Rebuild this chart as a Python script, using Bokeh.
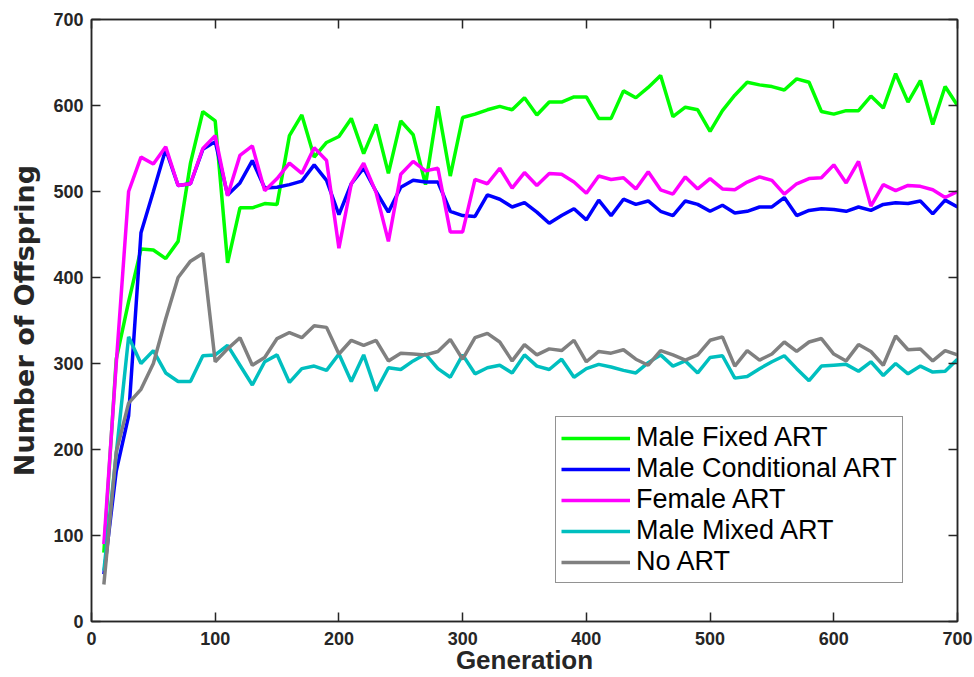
from bokeh.plotting import figure
from bokeh.models import Range1d, LinearAxis, Legend, LegendItem, FixedTicker, ColumnDataSource
from bokeh.embed import file_html
from bokeh.resources import INLINE

generation = list(range(10, 701, 10))

male_fixed = [80, 305, 372, 433, 432, 422, 442, 533, 593, 582,
              417, 481, 481, 486, 485, 565, 589, 540, 557, 564,
              585, 544, 578, 521, 582, 566, 508, 599, 518, 586,
              590, 595, 599, 595, 609, 589, 604, 604, 610, 610,
              585, 585, 617, 609, 621, 635, 587, 598, 595, 570,
              594, 612, 627, 624, 622, 618, 631, 627, 593, 590,
              594, 594, 611, 597, 637, 604, 629, 578, 622, 600]

male_conditional = [55, 175, 239, 452, 500, 549, 507, 509, 549, 558,
                    496, 510, 536, 504, 505, 508, 512, 531, 513, 473,
                    509, 527, 500, 476, 505, 513, 511, 511, 477, 472,
                    471, 496, 491, 482, 487, 476, 463, 472, 480, 467,
                    490, 472, 491, 485, 489, 477, 472, 489, 485, 477,
                    484, 475, 477, 482, 482, 493, 472, 478, 480, 479,
                    477, 482, 478, 485, 487, 486, 489, 474, 490, 482]

female = [90, 300, 500, 540, 532, 552, 507, 509, 550, 565,
          495, 542, 553, 501, 515, 533, 521, 551, 536, 434,
          509, 533, 499, 442, 520, 535, 524, 527, 453, 453,
          514, 509, 527, 504, 522, 507, 521, 520, 511, 498,
          518, 514, 516, 503, 523, 502, 497, 517, 503, 515,
          503, 502, 511, 517, 513, 497, 509, 515, 516, 531,
          510, 535, 483, 508, 501, 507, 506, 502, 493, 500]

male_mixed = [59, 195, 331, 300, 315, 289, 279, 279, 309, 310,
              321, 298, 275, 302, 310, 278, 294, 297, 292, 311,
              279, 310, 268, 295, 293, 303, 311, 294, 284, 310,
              288, 295, 298, 289, 310, 297, 293, 305, 284, 294,
              299, 296, 292, 289, 301, 310, 297, 303, 289, 307,
              309, 283, 285, 294, 302, 309, 294, 280, 297, 298,
              299, 291, 302, 286, 300, 288, 297, 290, 291, 305]

no_art = [43, 197, 254, 270, 300, 352, 400, 419, 428, 302,
          317, 330, 298, 307, 329, 336, 330, 344, 342, 311,
          327, 321, 327, 303, 312, 311, 310, 314, 328, 305,
          330, 335, 325, 303, 322, 310, 317, 315, 327, 302,
          314, 312, 316, 305, 298, 315, 310, 304, 310, 327,
          331, 297, 315, 304, 311, 325, 314, 325, 329, 311,
          303, 322, 314, 298, 332, 316, 317, 303, 315, 310]

series_names = ["Male Fixed ART", "Male Conditional ART", "Female ART",
                "Male Mixed ART", "No ART"]
series_colors = ["#00FF00", "#0000FF", "#FF00FF", "#00BFBF", "#808080"]
series_values = [male_fixed, male_conditional, female, male_mixed, no_art]

tick_values = [0, 100, 200, 300, 400, 500, 600, 700]

AX = "#262626"

p = figure(width=974, height=677, x_range=Range1d(0, 700), y_range=Range1d(0, 700),
           output_backend="svg", toolbar_location=None,
           min_border_left=91, min_border_right=17, min_border_top=19, min_border_bottom=55)
p.grid.visible = False
p.background_fill_color = "white"
p.border_fill_color = "white"
p.outline_line_color = AX
p.outline_line_width = 1.5


def style_axis(ax, labels=True):
    ax.ticker = FixedTicker(ticks=tick_values)
    ax.axis_line_color = AX
    ax.axis_line_width = 1.5
    ax.major_tick_line_color = AX
    ax.major_tick_line_width = 1.5
    ax.major_tick_in = 9
    ax.major_tick_out = 0
    ax.minor_tick_line_color = None
    ax.major_label_text_font = "Liberation Sans"
    ax.major_label_text_font_style = "bold"
    ax.major_label_text_color = AX
    ax.major_label_text_font_size = "18px"
    if not labels:
        ax.major_label_overrides = {t: "" for t in tick_values}
        ax.major_label_standoff = 0


style_axis(p.xaxis[0])
style_axis(p.yaxis[0])
p.xaxis[0].major_label_standoff = 10
p.yaxis[0].major_label_standoff = 8

p.xaxis[0].axis_label = "Generation"
p.xaxis[0].axis_label_text_font = "Liberation Sans"
p.xaxis[0].axis_label_text_font_style = "bold"
p.xaxis[0].axis_label_text_font_size = "26px"
p.xaxis[0].axis_label_text_color = AX
p.xaxis[0].axis_label_standoff = -3

p.yaxis[0].axis_label = "Number of Offspring"
p.yaxis[0].axis_label_text_font = "DejaVu Sans"
p.yaxis[0].axis_label_text_font_style = "bold"
p.yaxis[0].axis_label_text_font_size = "27px"
p.yaxis[0].axis_label_text_color = AX
p.yaxis[0].axis_label_standoff = 10

top_ax = LinearAxis()
style_axis(top_ax, labels=False)
p.add_layout(top_ax, "above")
right_ax = LinearAxis()
style_axis(right_ax, labels=False)
p.add_layout(right_ax, "right")

items = []
for name, color, vals in zip(series_names, series_colors, series_values):
    src = ColumnDataSource(data=dict(x=generation, y=vals))
    r = p.line("x", "y", source=src, line_color=color, line_width=3.5)
    items.append(LegendItem(label=name, renderers=[r]))

legend = Legend(items=items, location=(464, 38))
legend.label_text_font = "Liberation Sans"
legend.label_text_font_size = "27px"
legend.label_text_color = "black"
legend.glyph_width = 69
legend.glyph_height = 28
legend.label_height = 28
legend.label_standoff = 6
legend.spacing = 0
legend.padding = 5
legend.margin = 0
legend.border_line_color = AX
legend.border_line_width = 1.5
legend.background_fill_color = "white"
legend.background_fill_alpha = 1.0
p.add_layout(legend)

open("out.html", "w").write(file_html(p, INLINE))
